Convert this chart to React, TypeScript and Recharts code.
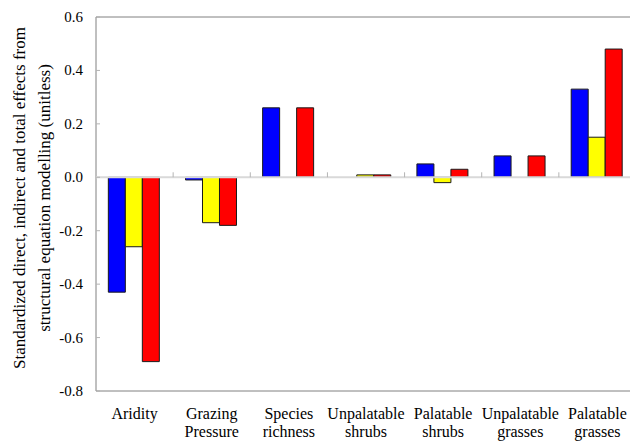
import { BarChart, Bar, XAxis, YAxis, ReferenceLine, ReferenceArea } from 'recharts';

// Effects (standardized, unitless)
const categoryLines = [
  ['Aridity'],
  ['Grazing', 'Pressure'],
  ['Species', 'richness'],
  ['Unpalatable', 'shrubs'],
  ['Palatable', 'shrubs'],
  ['Unpalatable', 'grasses'],
  ['Palatable', 'grasses'],
];
const directEffects = [-0.43, -0.01, 0.26, 0, 0.05, 0.08, 0.33];
const indirectEffects = [-0.26, -0.17, 0, 0.009, -0.02, 0, 0.15];
const totalEffects = [-0.69, -0.18, 0.26, 0.009, 0.03, 0.08, 0.48];
const yTicks = [-0.8, -0.6, -0.4, -0.2, 0, 0.2, 0.4, 0.6];

const data = categoryLines.map((lines, i) => ({
  name: lines.join(' '),
  direct: directEffects[i],
  indirect: indirectEffects[i],
  total: totalEffects[i],
}));

const FONT = '"Liberation Serif", "Times New Roman", serif';
const W = 630;
const H = 433;
const MARGIN = { top: 9, right: 2, bottom: 0, left: 0 };
const Y_AXIS_W = 88;
const X_AXIS_H = 50;
const Y_MIN = -0.8;
const Y_MAX = 0.6;
const PLOT_H = H - MARGIN.top - MARGIN.bottom - X_AXIS_H;
const ZERO_Y = MARGIN.top + ((Y_MAX - 0) / (Y_MAX - Y_MIN)) * PLOT_H;

// category labels under the frame + small separator ticks on the zero line
const renderXTick = (props: any) => {
  const { x, y, payload, index } = props;
  const lines = categoryLines[index] || [String(payload.value)];
  const bx = payload.coordinate - (payload.offset || 0);
  return (
    <g key={`xt-${index}`}>
      {index > 0 && (
        <line x1={bx} x2={bx} y1={ZERO_Y} y2={ZERO_Y - 5} stroke="#b4b4b4" strokeWidth={1} />
      )}
      <text x={x} y={y} textAnchor="middle" fontFamily={FONT} fontSize={16} fill="#000">
        {lines.map((l, k) => (
          <tspan key={k} x={x} dy={k === 0 ? 28 : 18}>
            {l}
          </tspan>
        ))}
      </text>
    </g>
  );
};

// y labels outside, tick marks pointing into the plot
const renderYTick = (props: any) => {
  const { x, y, payload, index } = props;
  return (
    <g key={`yt-${index}`}>
      <line x1={Y_AXIS_W} x2={Y_AXIS_W + 4} y1={y} y2={y} stroke="#b4b4b4" strokeWidth={1} />
      <text x={x} y={y} dy={5} textAnchor="end" fontFamily={FONT} fontSize={15} fill="#000">
        {Number(payload.value).toFixed(1)}
      </text>
    </g>
  );
};

function YLabel() {
  const cy = 190;
  return (
    <g fill="#000" fontFamily={FONT} fontSize={17}>
      <text transform={`translate(17,${cy}) rotate(-90)`} textAnchor="middle">
        Standardized direct, indirect and total effects from
      </text>
      <text transform={`translate(42,${cy}) rotate(-90)`} textAnchor="middle">
        structural equation modelling (unitless)
      </text>
    </g>
  );
}

export default function App() {
  return (
    <div style={{ width: W, height: H, background: '#fff', fontFamily: FONT }}>
      <BarChart
        width={W}
        height={H}
        data={data}
        margin={MARGIN}
        barGap={0}
        barCategoryGap="16%"
      >
        <XAxis
          dataKey="name"
          height={X_AXIS_H}
          axisLine={false}
          tickLine={false}
          tickSize={0}
          tickMargin={0}
          interval={0}
          tick={renderXTick}
        />
        <YAxis
          type="number"
          domain={[Y_MIN, Y_MAX]}
          ticks={yTicks}
          width={Y_AXIS_W}
          axisLine={false}
          tickLine={false}
          tickSize={0}
          tickMargin={13}
          interval={0}
          tick={renderYTick}
          label={{ content: () => <YLabel /> }}
        />
        <ReferenceLine y={0} stroke="#d9d9d9" strokeWidth={2} />
        <Bar dataKey="direct" fill="#0000ff" stroke="#1a1a1a" strokeWidth={1} isAnimationActive={false} />
        <Bar dataKey="indirect" fill="#ffff00" stroke="#1a1a1a" strokeWidth={1} isAnimationActive={false} />
        <Bar dataKey="total" fill="#ff0000" stroke="#1a1a1a" strokeWidth={1} isAnimationActive={false} />
        <ReferenceArea y1={Y_MIN} y2={Y_MAX} fill="none" fillOpacity={0} stroke="#808080" strokeWidth={1} />
      </BarChart>
    </div>
  );
}
